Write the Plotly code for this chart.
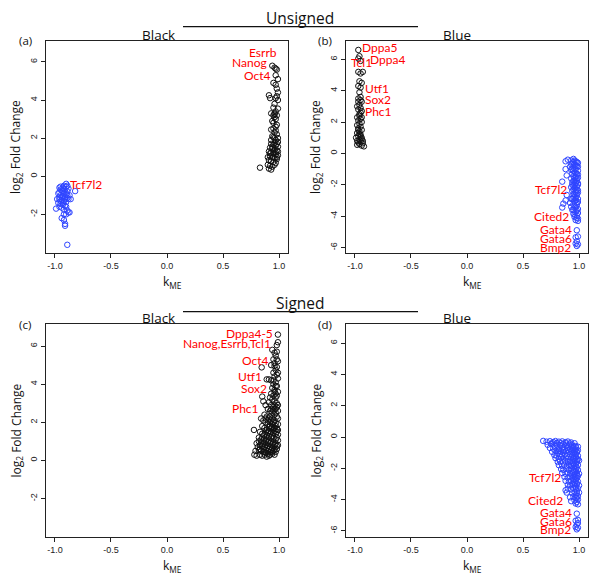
import plotly.graph_objects as go

# ---------------- data (kME, log2 fold change) ----------------
a_black = [(0.94,5.8),(0.96,5.7),(0.97,5.65),(0.98,5.6),(0.97,5.3),(0.99,5.1),(0.95,4.9),(0.97,4.8),
           (0.98,4.6),(0.99,4.4),(0.97,4.1),(0.99,4.0),(0.91,4.25),(0.92,4.1),(0.96,3.8),(0.95,3.6),
           (0.99,3.55),(0.93,3.3),(0.95,3.2),(0.96,3.1),(0.97,3.0),(0.94,2.9),(0.98,2.7),(0.97,2.6),
           (0.95,2.5),(0.93,2.45),(0.96,2.3),(0.98,2.2),(0.94,2.1),(0.96,2.0),(0.97,1.9),(0.99,1.8),
           (0.93,1.7),(0.95,1.65),(0.97,1.6),(0.99,1.55),(0.92,1.5),(0.94,1.45),(0.96,1.4),(0.98,1.35),
           (0.91,1.3),(0.93,1.25),(0.95,1.2),(0.97,1.15),(0.99,1.1),(0.92,1.05),(0.94,1.0),(0.96,0.95),
           (0.98,0.9),(0.91,0.85),(0.93,0.8),(0.95,0.75),(0.97,0.7),(0.90,0.6),(0.92,0.55),(0.94,0.5),
           (0.91,0.4),(0.93,0.35),(0.83,0.45),(0.95,1.3),(0.97,1.25),(0.94,1.55),(0.96,1.75),(0.98,1.7),
           (0.95,2.05),(0.97,2.4),(0.96,3.3),(0.97,3.4),(0.98,4.2),(0.95,1.0),(0.93,1.9),(0.92,1.2),
           (0.98,1.0),(0.90,1.0),(0.96,0.6),(0.99,1.3),(0.96,3.25),(0.98,3.2),(0.95,2.8),(0.99,2.0)]
a_blue = [(-0.90,-0.4),(-0.92,-0.5),(-0.95,-0.55),(-0.93,-0.6),(-0.88,-0.65),(-0.91,-0.7),(-0.94,-0.75),
          (-0.89,-0.8),(-0.96,-0.85),(-0.92,-0.9),(-0.90,-0.95),(-0.87,-1.0),(-0.95,-1.0),(-0.93,-1.05),
          (-0.91,-1.1),(-0.89,-1.15),(-0.96,-1.2),(-0.94,-1.25),(-0.92,-1.3),(-0.90,-1.35),(-0.97,-1.4),
          (-0.95,-1.45),(-0.93,-1.5),(-0.91,-1.55),(-0.96,-1.6),(-0.94,-1.65),(-0.99,-1.7),(-0.92,-1.75),
          (-0.89,-1.8),(-0.87,-1.9),(-0.90,-2.0),(-0.94,-2.2),(-0.92,-2.3),(-0.91,-2.5),(-0.91,-2.6),
          (-0.89,-3.6),(-0.82,-0.78),(-0.86,-1.2),(-0.97,-0.9),(-0.95,-1.3),(-0.93,-0.8),(-0.91,-1.2),
          (-0.89,-1.0),(-0.94,-1.1),(-0.92,-0.65),(-0.90,-0.55),(-0.88,-1.2),(-0.93,-1.4),(-0.96,-1.1),
          (-0.98,-1.2),(-0.95,-0.7),(-0.90,-1.6),(-0.88,-1.9),(-0.92,-2.0),(-0.96,-0.6),(-0.89,-0.5)]
b_black = [(-0.97,6.6),(-0.96,6.2),(-0.97,6.05),(-0.95,5.9),(-0.97,5.2),(-0.95,5.1),(-0.93,5.2),
           (-0.96,4.6),(-0.94,4.5),(-0.97,4.3),(-0.95,4.2),(-0.96,3.9),(-0.97,3.5),(-0.95,3.4),
           (-0.94,3.3),(-0.96,3.1),(-0.98,3.0),(-0.95,2.9),(-0.97,2.8),(-0.94,2.7),(-0.96,2.5),
           (-0.98,2.3),(-0.95,2.2),(-0.97,2.1),(-0.94,2.0),(-0.96,1.9),(-0.98,1.8),(-0.95,1.7),
           (-0.97,1.6),(-0.94,1.5),(-0.96,1.4),(-0.98,1.3),(-0.95,1.2),(-0.97,1.1),(-0.99,1.0),
           (-0.94,1.0),(-0.96,0.9),(-0.98,0.8),(-0.95,0.75),(-0.97,0.7),(-0.93,0.65),(-0.96,0.6),
           (-0.98,0.55),(-0.94,0.5),(-0.92,0.45),(-0.97,1.5),(-0.95,1.1),(-0.93,0.8),(-0.96,2.4),
           (-0.97,3.3),(-0.95,2.6),(-0.96,1.25),(-0.94,0.9),(-0.95,3.6),(-0.94,2.3)]
b_blue = [(0.90,-0.4),(0.88,-0.5),(0.93,-0.45),(0.95,-0.35),(0.97,-0.5),(0.99,-0.6),(0.94,-0.65),
          (0.96,-0.7),(0.98,-0.8),(0.92,-0.85),(0.88,-1.0),(0.95,-0.9),(0.97,-1.0),(0.99,-1.1),
          (0.93,-1.05),(0.96,-1.2),(0.94,-1.3),(0.98,-1.3),(0.89,-1.4),(0.95,-1.45),(0.97,-1.5),
          (0.99,-1.55),(0.93,-1.6),(0.96,-1.7),(0.98,-1.75),(0.94,-1.85),(0.85,-1.8),(0.97,-1.9),
          (0.99,-2.0),(0.95,-2.05),(0.93,-2.15),(0.96,-2.2),(0.98,-2.3),(0.94,-2.4),(0.97,-2.45),
          (0.99,-2.5),(0.95,-2.6),(0.89,-2.65),(0.98,-2.7),(0.96,-2.8),(0.93,-2.9),(0.88,-3.0),
          (0.97,-3.0),(0.99,-3.1),(0.86,-3.2),(0.92,-3.15),(0.95,-3.25),(0.98,-3.3),(0.85,-3.45),
          (0.96,-3.45),(0.99,-3.55),(0.94,-3.6),(0.97,-3.7),(0.99,-3.8),(0.95,-3.85),(0.98,-3.95),
          (0.96,-4.05),(0.99,-4.15),(0.97,-4.25),(0.99,-4.3),(0.98,-4.9),(0.97,-5.35),(0.99,-5.3),
          (0.98,-5.6),(0.99,-5.8),(0.97,-5.75),(0.98,-5.9),(0.96,-0.45),(0.98,-0.55),(0.95,-0.55),
          (0.97,-0.75),(0.99,-0.85),(0.95,-1.1),(0.97,-1.25),(0.99,-1.35),(0.96,-1.55),(0.98,-1.6),
          (0.95,-1.75),(0.97,-1.85),(0.99,-1.9),(0.96,-2.0),(0.98,-2.1),(0.95,-2.3),(0.97,-2.35),
          (0.99,-2.35),(0.96,-2.6),(0.98,-2.55),(0.95,-2.8),(0.97,-2.85),(0.99,-2.9),(0.96,-3.05),
          (0.98,-3.15),(0.97,-3.4),(0.95,-3.6),(0.98,-3.65),(0.96,-3.9),(0.98,-4.1),(0.94,-1.0),
          (0.94,-2.0),(0.94,-2.9),(0.93,-3.4),(0.93,-0.7)]
c_black = [(0.99,6.6),(0.99,6.2),(0.98,6.05),(0.94,5.8),(0.96,5.65),(0.98,5.7),(0.97,5.5),(0.95,5.3),
           (0.99,5.2),(0.96,5.1),(0.93,5.0),(0.98,4.9),(0.97,4.75),(0.845,4.88),(0.95,4.6),(0.98,4.5),
           (0.96,4.4),(0.99,4.3),(0.93,4.2),(0.91,4.25),(0.89,4.25),(0.97,4.1),(0.95,4.0),(0.98,3.9),
           (0.94,3.8),(0.96,3.7),(0.99,3.6),(0.93,3.5),(0.95,3.4),(0.97,3.3),(0.92,3.3),(0.94,3.2),
           (0.96,3.1),(0.98,3.0),(0.91,3.05),(0.86,3.1),(0.88,2.9),(0.85,3.35),(0.93,2.9),(0.95,2.8),
           (0.97,2.7),(0.99,2.6),(0.90,2.7),(0.92,2.6),(0.94,2.5),(0.96,2.4),(0.98,2.3),(0.87,2.4),
           (0.89,2.3),(0.91,2.2),(0.93,2.1),(0.95,2.0),(0.97,1.95),(0.99,1.9),(0.86,2.1),(0.88,2.0),
           (0.84,2.2),(0.90,1.9),(0.92,1.8),(0.94,1.75),(0.96,1.7),(0.98,1.65),(0.85,1.8),(0.87,1.7),
           (0.89,1.6),(0.91,1.55),(0.93,1.5),(0.95,1.45),(0.97,1.4),(0.99,1.35),(0.776,1.6),(0.83,1.5),
           (0.85,1.4),(0.87,1.35),(0.89,1.3),(0.91,1.25),(0.93,1.2),(0.95,1.15),(0.97,1.1),(0.99,1.05),
           (0.82,1.2),(0.84,1.1),(0.86,1.05),(0.88,1.0),(0.90,0.95),(0.92,0.9),(0.94,0.85),(0.96,0.8),
           (0.98,0.75),(0.80,0.9),(0.81,0.7),(0.83,0.8),(0.85,0.75),(0.87,0.7),(0.89,0.65),(0.91,0.6),
           (0.93,0.55),(0.95,0.5),(0.97,0.45),(0.79,0.5),(0.82,0.55),(0.84,0.5),(0.86,0.45),(0.88,0.4),
           (0.90,0.35),(0.92,0.3),(0.94,0.35),(0.78,0.3),(0.80,0.25),(0.83,0.3),(0.85,0.25),(0.87,0.3),
           (0.89,0.2),(0.91,0.25),(0.96,0.3),(0.98,0.6),(0.95,0.95),(0.97,0.9),(0.99,0.8),(0.93,1.0),
           (0.91,1.05),(0.89,1.1),(0.87,1.15),(0.85,1.2),(0.94,1.3),(0.92,1.4),(0.90,1.45),(0.88,1.5),
           (0.96,1.55),(0.98,1.5),(0.95,1.65),(0.93,1.7),(0.91,1.75),(0.97,1.8),(0.99,1.6),(0.96,2.1),
           (0.94,2.2),(0.92,2.3),(0.97,2.5),(0.95,2.6),(0.93,2.7),(0.98,2.8),(0.96,2.9),(0.97,3.5),
           (0.98,3.4),(0.96,3.6),(0.97,3.9),(0.95,4.2),(0.99,4.6),(0.96,4.95),(0.98,5.3),(0.83,0.6),
           (0.86,0.6),(0.88,0.8),(0.90,0.75),(0.92,0.7),(0.94,0.65),(0.96,0.6),(0.84,0.95),(0.82,1.0),
           (0.86,0.9),(0.90,0.5),(0.92,0.45),(0.94,0.45),(0.88,0.55),(0.98,1.2),(0.99,2.2),(0.99,2.9),
           (0.92,2.0),(0.90,2.1),(0.88,2.2),(0.94,1.9)]
d_blue = [(0.68,-0.25),(0.71,-0.3),(0.74,-0.27),(0.77,-0.32),(0.79,-0.26),(0.82,-0.3),(0.85,-0.28),
          (0.88,-0.33),(0.90,-0.29),(0.93,-0.35),(0.96,-0.4),(0.72,-0.5),(0.75,-0.45),(0.78,-0.55),
          (0.80,-0.48),(0.83,-0.52),(0.86,-0.46),(0.89,-0.55),(0.91,-0.5),(0.94,-0.53),(0.97,-0.58),
          (0.99,-0.62),(0.74,-0.7),(0.77,-0.75),(0.80,-0.68),(0.82,-0.78),(0.85,-0.72),(0.87,-0.8),
          (0.90,-0.7),(0.92,-0.76),(0.95,-0.72),(0.97,-0.8),(0.99,-0.85),(0.76,-0.95),(0.79,-0.9),
          (0.81,-1.0),(0.84,-0.92),(0.86,-0.98),(0.88,-0.9),(0.91,-0.95),(0.93,-0.9),(0.96,-0.97),
          (0.98,-0.93),(0.78,-1.15),(0.80,-1.2),(0.83,-1.1),(0.85,-1.18),(0.87,-1.12),(0.89,-1.2),
          (0.92,-1.1),(0.94,-1.15),(0.97,-1.1),(0.99,-1.2),(0.79,-1.35),(0.82,-1.4),(0.84,-1.3),
          (0.86,-1.38),(0.88,-1.32),(0.90,-1.4),(0.93,-1.3),(0.95,-1.38),(0.97,-1.32),(0.99,-1.42),
          (0.81,-1.6),(0.83,-1.55),(0.86,-1.62),(0.88,-1.52),(0.90,-1.6),(0.92,-1.55),(0.94,-1.62),
          (0.96,-1.55),(0.98,-1.6),(1.00,-1.5),(0.82,-1.8),(0.85,-1.85),(0.87,-1.78),(0.89,-1.88),
          (0.91,-1.8),(0.93,-1.85),(0.95,-1.78),(0.97,-1.85),(0.99,-1.8),(0.84,-2.05),(0.86,-2.1),
          (0.89,-2.0),(0.91,-2.1),(0.93,-2.02),(0.95,-2.1),(0.97,-2.05),(0.99,-2.1),(0.85,-2.3),
          (0.88,-2.35),(0.90,-2.28),(0.92,-2.35),(0.94,-2.3),(0.96,-2.38),(0.98,-2.3),(1.00,-2.35),
          (0.87,-2.55),(0.90,-2.6),(0.92,-2.52),(0.94,-2.6),(0.96,-2.55),(0.98,-2.6),(0.99,-2.5),
          (0.88,-2.8),(0.91,-2.85),(0.93,-2.78),(0.95,-2.85),(0.97,-2.8),(0.99,-2.85),(0.90,-3.05),
          (0.92,-3.1),(0.94,-3.0),(0.96,-3.08),(0.98,-3.02),(1.00,-3.1),(0.88,-3.4),(0.90,-3.3),
          (0.93,-3.35),(0.95,-3.25),(0.97,-3.32),(0.99,-3.28),(0.89,-3.55),(0.94,-3.6),(0.96,-3.52),
          (0.98,-3.6),(1.00,-3.55),(0.92,-3.85),(0.95,-3.8),(0.97,-3.88),(0.99,-3.78),(0.93,-4.1),
          (0.96,-4.05),(0.98,-4.15),(0.99,-4.0),(0.97,-4.25),(0.99,-4.3),(0.98,-4.9),(0.97,-5.35),
          (0.99,-5.3),(0.98,-5.6),(0.99,-5.8),(0.97,-5.75),(0.98,-5.9),(0.99,-5.5),(0.95,-0.6),
          (0.97,-0.65),(0.93,-0.62),(0.96,-0.85),(0.94,-0.82),(0.98,-1.0),(0.95,-1.05),(0.97,-1.25),
          (0.95,-1.25),(0.98,-1.45),(0.96,-1.45),(0.97,-1.7),(0.95,-1.68),(0.98,-1.95),(0.96,-1.95),
          (0.97,-2.2),(0.95,-2.2),(0.98,-2.45),(0.96,-2.45),(0.97,-2.7),(0.95,-2.7),(0.98,-2.95),
          (0.96,-2.95),(0.97,-3.2),(0.98,-3.45),(0.97,-3.7),(0.98,-3.9),(0.88,-0.4),(0.84,-0.4),
          (0.80,-0.38),(0.76,-0.4),(0.92,-0.42),(0.90,-0.85),(0.86,-0.85),(0.82,-0.88)]

# gene labels: (text, kME, log2FC, anchor)
a_labels = [("Esrrb", 0.997, 6.47, "right"), ("Nanog", 0.908, 5.95, "right"),
            ("Oct4", 0.95, 5.27, "right"), ("Tcf7l2", -0.885, -0.45, "left")]
b_labels = [("Dppa5", -0.955, 6.74, "left"), ("Dppa4", -0.88, 5.97, "left"),
            ("Tcl1", -1.054, 5.78, "left"), ("Utf1", -0.928, 4.16, "left"),
            ("Sox2", -0.928, 3.41, "left"), ("Phc1", -0.928, 2.67, "left"),
            ("Tcf7l2", 0.91, -2.32, "right"), ("Cited2", 0.932, -4.03, "right"),
            ("Gata4", 0.955, -4.83, "right"), ("Gata6", 0.955, -5.41, "right"),
            ("Bmp2", 0.946, -5.97, "right")]
c_labels = [("Dppa4-5", 0.961, 6.67, "right"), ("Nanog,Esrrb,Tcl1", 0.946, 6.11, "right"),
            ("Oct4", 0.932, 5.24, "right"), ("Utf1", 0.866, 4.41, "right"),
            ("Sox2", 0.911, 3.75, "right"), ("Phc1", 0.842, 2.7, "right")]
d_labels = [("Tcf7l2", 0.857, -2.56, "right"), ("Cited2", 0.872, -4.06, "right"),
            ("Gata4", 0.955, -4.83, "right"), ("Gata6", 0.955, -5.39, "right"),
            ("Bmp2", 0.946, -5.94, "right")]

x_ticks = [-1.0, -0.5, 0.0, 0.5, 1.0]
x_ticktext = ["-1.0", "-0.5", "0.0", "0.5", "1.0"]

# ---------------- figure ----------------
BLACK = "#111111"
BLUE = "#2f45ff"
RED = "#ff0000"
OFF = 8            # page body margin of the browser
W, H = 600 - OFF, 587 - OFF

fig = go.Figure()

def add_pts(pts, color, n):
    sfx = "" if n == 1 else str(n)
    fig.add_trace(go.Scatter(
        x=[p[0] for p in pts], y=[p[1] for p in pts], mode="markers",
        marker=dict(symbol="circle-open", size=5.5, color=color, line=dict(width=1, color=color)),
        xaxis="x" + sfx, yaxis="y" + sfx, hoverinfo="skip"))

add_pts(a_black, BLACK, 1)
add_pts(a_blue, BLUE, 1)
add_pts(b_black, BLACK, 2)
add_pts(b_blue, BLUE, 2)
add_pts(c_black, BLACK, 3)
add_pts(d_blue, BLUE, 4)

def px_x(v):
    return (v - OFF) / W

def px_y(v):
    return 1 - (v - OFF) / H

boxes = {1: (46, 288, 41, 253), 2: (346, 588, 41, 253),
         3: (46, 288, 324.3, 536.7), 4: (346, 588, 324.3, 536.7)}
yranges = {1: [-4.03, 7.1], 2: [-6.35, 7.17], 3: [-4.0, 7.14], 4: [-6.37, 7.2]}

axfont = dict(family="Liberation Sans, Arial", size=9, color="#222")
common = dict(showline=True, mirror=True, linecolor="#222", linewidth=1, ticks="outside",
              ticklen=4, tickwidth=1, tickcolor="#222", showgrid=False, zeroline=False,
              tickfont=axfont, fixedrange=True)

layout = dict(width=W, height=H, margin=dict(l=0, r=0, t=0, b=0), showlegend=False,
              plot_bgcolor="white", paper_bgcolor="white")
for n, (l, r, t, b) in boxes.items():
    sfx = "" if n == 1 else str(n)
    lo, hi = (-2, 6) if n in (1, 3) else (-6, 6)
    yvals = list(range(lo, hi + 1, 2))
    layout["xaxis" + sfx] = dict(domain=[px_x(l), px_x(r)], anchor="y" + sfx, range=[-1.08, 1.08],
                                 tickvals=x_ticks, ticktext=x_ticktext, **common)
    layout["yaxis" + sfx] = dict(domain=[px_y(b), px_y(t)], anchor="x" + sfx, range=yranges[n],
                                 tickvals=yvals, ticktext=[str(v) for v in yvals],
                                 tickangle=-90, **common)
fig.update_layout(**layout)

ann = []
TF = "Open Sans, Liberation Sans"
LF = "Lato, Open Sans"

def panel_labels(labels, n):
    sfx = "" if n == 1 else str(n)
    for txt, x, y, anc in labels:
        ann.append(dict(text=txt, x=x, y=y, xref="x" + sfx, yref="y" + sfx, xanchor=anc,
                        yanchor="middle", showarrow=False,
                        font=dict(family=LF, size=12, color=RED)))

panel_labels(a_labels, 1)
panel_labels(b_labels, 2)
panel_labels(c_labels, 3)
panel_labels(d_labels, 4)

def paper_text(txt, xp, yp, size, angle=0, xanchor="center", family=TF):
    ann.append(dict(text=txt, x=px_x(xp), y=px_y(yp), xref="paper", yref="paper",
                    xanchor=xanchor, yanchor="middle", showarrow=False, textangle=angle,
                    font=dict(family=family, size=size, color="#111")))

paper_text("Unsigned", 300, 18, 15.5)
paper_text("Signed", 300, 302.5, 15.5)
for n, (l, r, t, b) in boxes.items():
    cx = (l + r) / 2
    paper_text("Black" if n in (1, 3) else "Blue", l + 112 if n in (1, 3) else l + 111, t - 6, 13.5)
    paper_text("(" + "abcd"[n - 1] + ")", l - 21, t, 11.5)
    paper_text("k<sub>ME</sub>", cx + 5, b + 29, 12)
    paper_text("log<sub>2</sub> Fold Change", l - 30, (t + b) / 2, 12, angle=-90)

fig.update_layout(annotations=ann)

lines = []
for yl in (26.7, 311.7):
    lines.append(dict(type="line", xref="paper", yref="paper", x0=px_x(183), x1=px_x(418),
                      y0=px_y(yl), y1=px_y(yl), line=dict(color="#111", width=1.2)))
fig.update_layout(shapes=lines)

fig.write_html("out.html")
